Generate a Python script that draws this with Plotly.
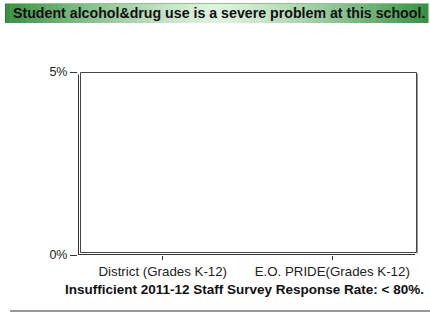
import plotly.graph_objects as go

categories = ["District (Grades K-12)", "E.O. PRIDE(Grades K-12)"]
values = [0, 0]
y_ticks = [0, 0.05]
y_tick_labels = ["0%", "5%"]
title_text = "Student alcohol&drug use is a severe problem at this school."
note_text = "Insufficient 2011-12 Staff Survey Response Rate: < 80%."

W, H = 430, 313
L, R, T, B = 78, 13, 72, 58
PW, PH = W - L - R, H - T - B

def px(x):
    return (x - L) / PW

def py(y):
    return (H - B - y) / PH

fig = go.Figure()
fig.add_trace(go.Bar(x=categories, y=values, marker_color="#3e9a4a", showlegend=False))

shapes = []
# gradient banner
N = 80
x0, x1, y0, y1 = 5, 428, 3, 23
light = (222, 242, 222)
dark = (55, 145, 65)
for i in range(N):
    t = (i + 0.5) / N
    d = abs(t - 0.5) * 2
    w = d ** 1.3
    c = tuple(int(light[k] * (1 - w) + dark[k] * w) for k in range(3))
    xa = x0 + (x1 - x0) * i / N
    xb = x0 + (x1 - x0) * (i + 1) / N + 0.5
    shapes.append(dict(type="rect", xref="paper", yref="paper",
                       x0=px(xa), x1=px(xb), y0=py(y1), y1=py(y0),
                       fillcolor="rgb(%d,%d,%d)" % c, line=dict(width=0), layer="below"))
# banner edges
shapes.append(dict(type="line", xref="paper", yref="paper", x0=px(x0 + 0.5), x1=px(x0 + 0.5), y0=py(y1), y1=py(y0),
                   line=dict(color="#2f7a38", width=1)))
shapes.append(dict(type="line", xref="paper", yref="paper", x0=px(x0), x1=px(x1), y0=py(y0 + 0.5), y1=py(y0 + 0.5),
                   line=dict(color="#8cc78f", width=1)))
# back frame (3D effect)
shapes.append(dict(type="rect", xref="paper", yref="paper", x0=px(80.5), x1=px(416.5), y0=py(252.5), y1=py(72.5),
                   line=dict(color="#444444", width=1), fillcolor="rgba(0,0,0,0)"))
shapes.append(dict(type="line", xref="paper", yref="paper", x0=px(417.5), x1=px(417.5), y0=py(253.5), y1=py(73.5),
                   line=dict(color="#999999", width=1)))
# front left & bottom lines
shapes.append(dict(type="line", xref="paper", yref="paper", x0=px(78.5), x1=px(78.5), y0=py(254.5), y1=py(74.5),
                   line=dict(color="#333333", width=1)))
shapes.append(dict(type="line", xref="paper", yref="paper", x0=px(78), x1=px(415), y0=py(254.5), y1=py(254.5),
                   line=dict(color="#333333", width=1)))
# bottom grey rule
shapes.append(dict(type="line", xref="paper", yref="paper", x0=px(10), x1=px(430), y0=py(311), y1=py(311),
                   line=dict(color="#999999", width=2)))

fig.update_layout(
    width=W, height=H,
    margin=dict(l=L, r=R, t=T, b=B),
    paper_bgcolor="white", plot_bgcolor="white",
    font=dict(family="Liberation Sans, Arial, sans-serif", size=11, color="#222222"),
    shapes=shapes,
    annotations=[
        dict(text="<b>" + title_text + "</b>", xref="paper", yref="paper",
             x=px(11), y=py(13), xanchor="left", yanchor="middle", showarrow=False,
             font=dict(size=14.2, color="#111111")),
        dict(text="<b>" + note_text + "</b>", xref="paper", yref="paper",
             x=px(244), y=py(289), xanchor="center", yanchor="middle", showarrow=False,
             font=dict(size=13.5, color="#111111")),
    ],
    xaxis=dict(range=[-0.5, 1.5], showgrid=False, zeroline=False, showline=False,
               ticks="outside", ticklen=4, tickcolor="#333333",
               tickfont=dict(size=13.3, color="#222222")),
    yaxis=dict(range=[0, 0.05], tickvals=y_ticks, ticktext=y_tick_labels, showgrid=False,
               zeroline=False, showline=False, ticks="outside", ticklen=7, tickcolor="#333333",
               tickfont=dict(size=12.5, color="#222222")),
    bargap=0.4,
)

fig.write_html("out.html", config={"displayModeBar": False},
               post_script="document.body.style.margin='0';document.body.style.overflow='hidden';")
